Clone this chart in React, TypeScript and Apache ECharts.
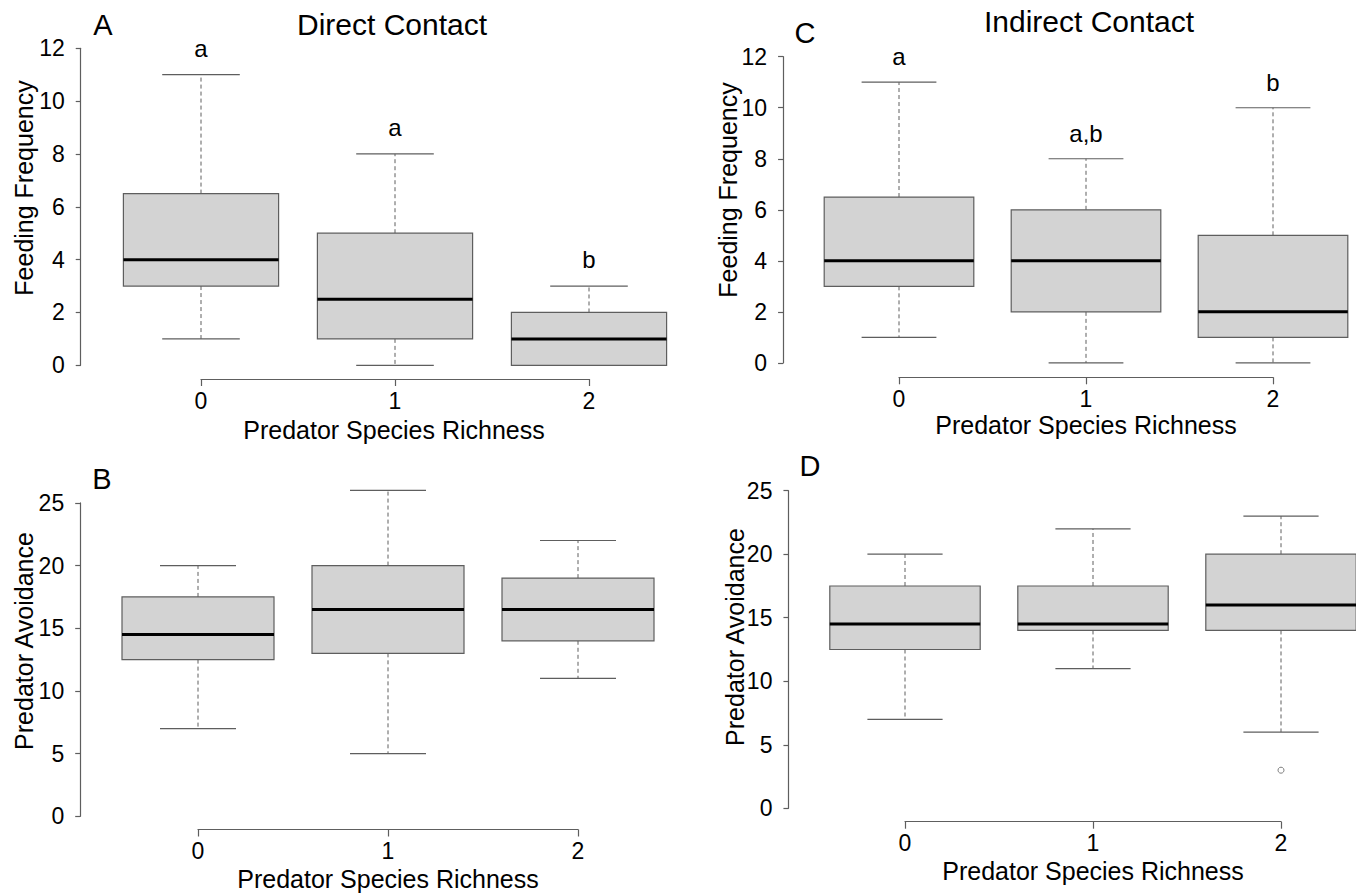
import React, { useEffect, useRef } from "react";
import * as echarts from "echarts";

// Predator species richness levels (x categories)
const richness = ["0", "1", "2"];

// Box statistics per richness level: [lower whisker, Q1, median, Q3, upper whisker]
const directFeeding = [
  [1, 3, 4, 6.5, 11],
  [0, 1, 2.5, 5, 8],
  [0, 0, 1, 2, 3],
];
const directFeedingLetters = ["a", "a", "b"];

const indirectFeeding = [
  [1, 3, 4, 6.5, 11],
  [0, 2, 4, 6, 8],
  [0, 1, 2, 5, 10],
];
const indirectFeedingLetters = ["a", "a,b", "b"];

const directAvoidance = [
  [7, 12.5, 14.5, 17.5, 20],
  [5, 13, 16.5, 20, 26],
  [11, 14, 16.5, 19, 22],
];

const indirectAvoidance = [
  [7, 12.5, 14.5, 17.5, 20],
  [11, 14, 14.5, 17.5, 22],
  [6, 14, 16, 20, 23],
];
// [category index, value]
const indirectAvoidanceOutliers = [[2, 3]];

const FONT = "'Liberation Sans', Arial, Helvetica, sans-serif";
const LINE = "#5e5e5e";

type Panel = {
  tag: string;
  title?: string;
  yName: string;
  stats: number[][];
  letters?: string[];
  outliers?: number[][];
  yMax: number;
  yStep: number;
  cat0: number; // pixel x of category 0
  unit: number; // pixels per category step
  top: number; // pixel y of yMax
  bottom: number; // pixel y of 0
  xAxisOffset: number;
  tagPos: [number, number];
  titlePos?: [number, number];
  yNamePos: [number, number];
  xNamePos: [number, number];
};

const panels: Panel[] = [
  {
    tag: "A",
    title: "Direct Contact",
    yName: "Feeding Frequency",
    stats: directFeeding,
    letters: directFeedingLetters,
    yMax: 12,
    yStep: 2,
    cat0: 201,
    unit: 194,
    top: 48.3,
    bottom: 365.3,
    xAxisOffset: 13.7,
    tagPos: [103, 25],
    titlePos: [392, 24],
    yNamePos: [24, 188],
    xNamePos: [394, 430],
  },
  {
    tag: "B",
    yName: "Predator Avoidance",
    stats: directAvoidance,
    yMax: 25,
    yStep: 5,
    cat0: 198,
    unit: 190,
    top: 502.9,
    bottom: 816.3,
    xAxisOffset: 13.2,
    tagPos: [102, 479],
    yNamePos: [24, 641],
    xNamePos: [388, 879],
  },
  {
    tag: "C",
    title: "Indirect Contact",
    yName: "Feeding Frequency",
    stats: indirectFeeding,
    letters: indirectFeedingLetters,
    yMax: 12,
    yStep: 2,
    cat0: 899,
    unit: 187,
    top: 56.7,
    bottom: 362.9,
    xAxisOffset: 14.4,
    tagPos: [805, 33],
    titlePos: [1089, 21],
    yNamePos: [728, 190],
    xNamePos: [1086, 425],
  },
  {
    tag: "D",
    yName: "Predator Avoidance",
    stats: indirectAvoidance,
    outliers: indirectAvoidanceOutliers,
    yMax: 25,
    yStep: 5,
    cat0: 905,
    unit: 188,
    top: 490.7,
    bottom: 808.3,
    xAxisOffset: 13.4,
    tagPos: [810, 466],
    yNamePos: [735, 637],
    xNamePos: [1093, 871],
  },
];

// x extent of each plot region in category units (left padding as in R)
const X_MIN = -0.62;
const X_MAX = 2.4;

function makeBoxRenderer(letters?: string[]) {
  return (params: any, api: any) => {
    const x = api.value(0);
    const lo = api.value(1);
    const q1 = api.value(2);
    const med = api.value(3);
    const q3 = api.value(4);
    const hi = api.value(5);
    const boxW = api.size([0.8, 0])[0];
    const capHalf = boxW / 4;
    const cx = api.coord([x, med])[0];
    const yLo = api.coord([x, lo])[1];
    const yQ1 = api.coord([x, q1])[1];
    const yMed = api.coord([x, med])[1];
    const yQ3 = api.coord([x, q3])[1];
    const yHi = api.coord([x, hi])[1];
    const dashed = { stroke: LINE, lineWidth: 1, lineDash: [4, 3] };
    const solid = { stroke: LINE, lineWidth: 1.2 };
    const children: any[] = [];
    if (hi > q3) {
      children.push({ type: "line", shape: { x1: cx, y1: yQ3, x2: cx, y2: yHi }, style: dashed });
      children.push({ type: "line", shape: { x1: cx - capHalf, y1: yHi, x2: cx + capHalf, y2: yHi }, style: solid });
    }
    if (lo < q1) {
      children.push({ type: "line", shape: { x1: cx, y1: yQ1, x2: cx, y2: yLo }, style: dashed });
      children.push({ type: "line", shape: { x1: cx - capHalf, y1: yLo, x2: cx + capHalf, y2: yLo }, style: solid });
    }
    children.push({
      type: "rect",
      shape: { x: cx - boxW / 2, y: yQ3, width: boxW, height: yQ1 - yQ3 },
      style: { fill: "#d3d3d3", stroke: LINE, lineWidth: 1.2 },
    });
    children.push({
      type: "line",
      shape: { x1: cx - boxW / 2, y1: yMed, x2: cx + boxW / 2, y2: yMed },
      style: { stroke: "#000", lineWidth: 3 },
    });
    if (letters && letters[params.dataIndex]) {
      const yText = api.coord([x, hi + 1])[1];
      children.push({
        type: "text",
        x: cx,
        y: yText,
        style: {
          text: letters[params.dataIndex],
          fill: "#000",
          font: `24px ${FONT}`,
          align: "center",
          verticalAlign: "middle",
        },
      });
    }
    return { type: "group", children };
  };
}

function buildOption() {
  const grid: any[] = [];
  const xAxis: any[] = [];
  const yAxis: any[] = [];
  const series: any[] = [];
  const graphic: any[] = [];

  panels.forEach((p, i) => {
    const dataGrid = i * 2;
    const axisGrid = i * 2 + 1;
    const left = p.cat0 + X_MIN * p.unit;
    const width = (X_MAX - X_MIN) * p.unit;
    const height = p.bottom - p.top;

    grid.push({ left, top: p.top, width, height, containLabel: false, outerBoundsMode: "none" });
    grid.push({
      left: p.cat0,
      top: p.top,
      width: 2 * p.unit,
      height,
      containLabel: false,
      outerBoundsMode: "none",
    });

    xAxis.push({
      gridIndex: dataGrid,
      type: "value",
      min: X_MIN,
      max: X_MAX,
      show: false,
    });
    xAxis.push({
      gridIndex: axisGrid,
      type: "category",
      data: richness,
      boundaryGap: false,
      position: "bottom",
      offset: p.xAxisOffset,
      axisLine: { show: true, onZero: false, lineStyle: { color: LINE, width: 1.2 } },
      axisTick: { show: true, length: 7, inside: false, lineStyle: { color: LINE, width: 1.2 } },
      axisLabel: { show: true, fontSize: 23, color: "#000", fontFamily: FONT, margin: 10 },
      splitLine: { show: false },
    });

    yAxis.push({
      gridIndex: dataGrid,
      type: "value",
      min: 0,
      max: p.yMax,
      interval: p.yStep,
      position: "left",
      axisLine: { show: true, onZero: false, lineStyle: { color: LINE, width: 1.2 } },
      axisTick: { show: true, length: 5, inside: false, lineStyle: { color: LINE, width: 1.2 } },
      axisLabel: { show: true, fontSize: 23, color: "#000", fontFamily: FONT, margin: 16 },
      splitLine: { show: false },
    });
    yAxis.push({ gridIndex: axisGrid, type: "value", min: 0, max: 1, show: false });

    series.push({
      type: "custom",
      xAxisIndex: dataGrid,
      yAxisIndex: dataGrid,
      clip: false,
      renderItem: makeBoxRenderer(p.letters),
      data: p.stats.map((s, k) => [k, ...s]),
      silent: true,
    });

    if (p.outliers) {
      series.push({
        type: "scatter",
        xAxisIndex: dataGrid,
        yAxisIndex: dataGrid,
        symbol: "circle",
        symbolSize: 6,
        itemStyle: { color: "#fff", borderColor: LINE, borderWidth: 1 },
        data: p.outliers,
        silent: true,
      });
    }

    graphic.push({
      type: "text",
      x: p.tagPos[0],
      y: p.tagPos[1],
      style: { text: p.tag, fill: "#000", font: `29px ${FONT}`, align: "center", verticalAlign: "middle" },
    });
    if (p.title && p.titlePos) {
      graphic.push({
        type: "text",
        x: p.titlePos[0],
        y: p.titlePos[1],
        style: { text: p.title, fill: "#000", font: `30px ${FONT}`, align: "center", verticalAlign: "middle" },
      });
    }
    graphic.push({
      type: "text",
      x: p.yNamePos[0],
      y: p.yNamePos[1],
      rotation: Math.PI / 2,
      style: { text: p.yName, fill: "#000", font: `25px ${FONT}`, align: "center", verticalAlign: "middle" },
    });
    graphic.push({
      type: "text",
      x: p.xNamePos[0],
      y: p.xNamePos[1],
      style: {
        text: "Predator Species Richness",
        fill: "#000",
        font: `25px ${FONT}`,
        align: "center",
        verticalAlign: "middle",
      },
    });
  });

  return {
    animation: false,
    backgroundColor: "#fff",
    textStyle: { fontFamily: FONT },
    grid,
    xAxis,
    yAxis,
    series,
    graphic,
  };
}

export default function App() {
  const ref = useRef<HTMLDivElement>(null);

  useEffect(() => {
    if (!ref.current) return;
    const chart = echarts.init(ref.current, null, { renderer: "svg" });
    chart.setOption(buildOption() as any);
    return () => chart.dispose();
  }, []);

  return (
    <div
      ref={ref}
      style={{ position: "absolute", left: 0, top: 0, width: 1356, height: 894, background: "#fff" }}
    />
  );
}
